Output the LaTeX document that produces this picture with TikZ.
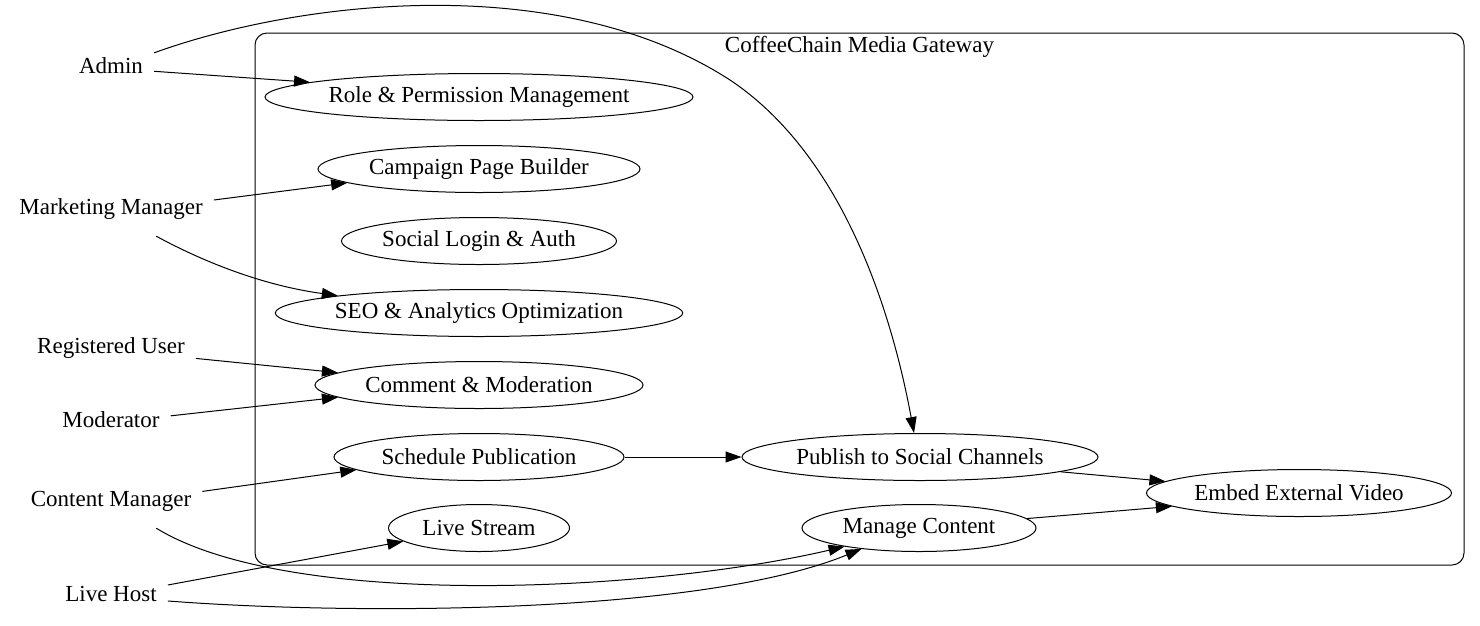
\documentclass[tikz,border=0pt]{standalone}
\usepackage{fontspec}
\setmainfont{Liberation Serif}
\usetikzlibrary{arrows.meta,positioning,shapes.geometric}
\newcommand{\usecase}[5]{\node[usecase, minimum width=#4] (#1) at (#2,#3) {#5}}
\newcommand{\actorat}[4]{\node[actorlabel] (#1) at (#2,#3) {#4}}
\newcommand{\assoc}[2]{\draw[assocline] (#1) -- (#2)}

\begin{document}
\begin{tikzpicture}[x=1pt, y=-1pt,
	font=\fontsize{23}{28}\selectfont,
	usecase/.style={draw, ellipse, inner sep=0pt, minimum height=47pt, line width=1pt},
	actorlabel/.style={inner xsep=11pt, minimum height=54pt},
	assocline/.style={line width=1pt, -{Triangle[length=16pt,width=11pt]}}]
	\useasboundingbox (0,0) rectangle (1480,625);
%System boundary
	\node[draw, rounded corners=12pt, line width=1pt, minimum width=1209pt, minimum height=532pt] (gateway) at (859.5,299) {};
	\node[anchor=north, inner sep=4pt] (gatewaylabel) at (gateway.north) {CoffeeChain Media Gateway};
%Use cases
	\usecase{rolemgmt}{479}{97}{428pt}{Role \& Permission Management};
	\usecase{campaign}{479}{169}{322pt}{Campaign Page Builder};
	\usecase{sociallogin}{479}{241}{275pt}{Social Login \& Auth};
	\usecase{seo}{479}{313}{402pt}{SEO \& Analytics Optimization};
	\usecase{comment}{479}{385}{328pt}{Comment \& Moderation};
	\usecase{schedule}{479}{457}{290pt}{Schedule Publication};
	\usecase{livestream}{479}{528}{181pt}{Live Stream};
	\usecase{publish}{920}{457}{356pt}{Publish to Social Channels};
	\usecase{managecontent}{919}{528}{234pt}{Manage Content};
	\usecase{embed}{1299}{493}{305pt}{Embed External Video};
%Actors
	\actorat{admin}{111}{66}{Admin};
	\actorat{marketing}{111}{209}{Marketing Manager};
	\actorat{reguser}{111}{348}{Registered User};
	\actorat{moderator}{111}{420}{Moderator};
	\actorat{contentmgr}{111}{501}{Content Manager};
	\actorat{livehost}{111}{594}{Live Host};
%Associations
	\assoc{admin.-7}{rolemgmt.175.5};
	\draw[assocline] (admin.17) .. controls (300,0) and (560,-30) .. (730,80)
		.. controls (850,160) and (895,330) .. (publish.104);
	\assoc{marketing.5}{campaign.186.5};
	\draw[assocline] (marketing.-31.5) .. controls (200,260) and (260,285) .. (seo.173.7);
	\assoc{reguser.-7}{comment.175};
	\assoc{moderator.4}{comment.185};
	\assoc{contentmgr.6}{schedule.186.8};
	\draw[assocline] (contentmgr.-31.5) .. controls (290,610) and (650,592) .. (managecontent.194);
	\assoc{livehost.9}{livestream.190.7};
	\draw[assocline] (livehost.-7) .. controls (350,615) and (700,615) .. (managecontent.200.4);
%Between use cases
	\assoc{schedule.east}{publish.west};
	\assoc{publish.-6}{embed.175};
	\assoc{managecontent.5}{embed.186};
\end{tikzpicture}
\end{document}
